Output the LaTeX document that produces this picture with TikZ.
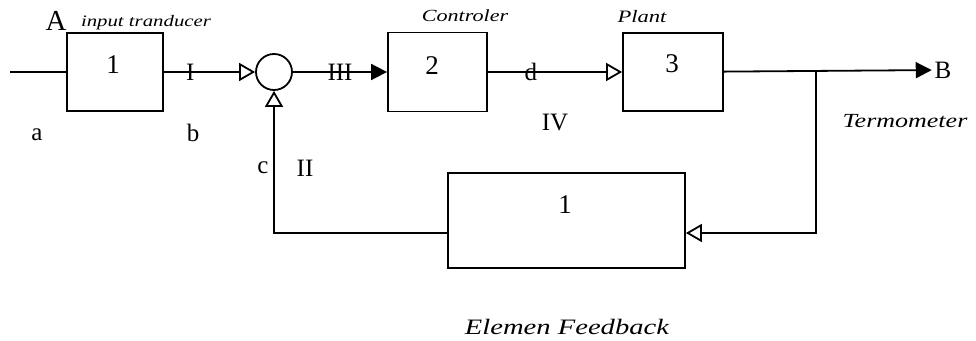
\documentclass[tikz,border=0pt]{standalone}
\usepackage{fontspec}
\setmainfont{Liberation Serif}
\newfontfamily\tagfont[FakeStretch=1.3]{Liberation Serif}
\usetikzlibrary{arrows.meta}

\begin{document}
\begin{tikzpicture}[x=0.5pt,y=-0.5pt,line width=0.9pt,
  blk/.style={draw,inner sep=0pt},
  opentip/.style={-{Triangle[open,length=8pt,width=9pt]}},
  fulltip/.style={-{Triangle[length=8pt,width=8pt]}},
  num/.style={font=\fontsize{13.5}{15}\selectfont},
  sig/.style={font=\fontsize{12.5}{15}\selectfont,inner sep=1pt},
  tag/.style={font=\tagfont\itshape\fontsize{#1}{12}\selectfont,inner sep=0pt}]
  \useasboundingbox (0,0) rectangle (976,341);
  \node[blk,minimum width=48pt,minimum height=39pt] (tr) at (115,72) {};
  \node[num] (tr1) at (113,65) {1};
  \node[draw,circle,minimum size=18pt,inner sep=0pt] (sum) at (274,72) {};
  \node[blk,minimum width=49.5pt,minimum height=39.5pt] (ctl) at (437.5,72) {};
  \node[num] (ctl2) at (432,66) {2};
  \node[blk,minimum width=50pt,minimum height=39pt] (pl) at (673,72) {};
  \node[num] (pl3) at (672,64) {3};
  \node[blk,minimum width=118.5pt,minimum height=47.5pt] (fb) at (566.5,220.5) {};
  \node[num] (fb1) at (565,205) {1};
  \coordinate (in) at (10,72);
  \coordinate (tap) at (816,72);
  \node[sig] (B) at (943,70) {B};

  \draw (in) -- (tr);
  \draw[opentip] (tr) -- node[sig,pos=0.29] {I} (sum);
  \draw[fulltip] (sum) -- node[sig,pos=0.5] {III} (ctl);
  \draw[opentip] (ctl) -- node[sig,pos=0.32] {d} (pl);
  \draw[fulltip] (pl) -- (B);
  \draw[opentip] (tap) |- ([yshift=-6.25pt]fb.east);
  \draw[opentip] ([yshift=-6.25pt]fb.west) -| (sum);

  \node[sig,font=\fontsize{14.5}{16}\selectfont] (A) at (56,21) {A};
  \node[sig] (a) at (37,135) {a};
  \node[sig] (b) at (193,133) {b};
  \node[sig] (c) at (263,168) {c};
  \node[sig] (II) at (305,168) {II};
  \node[sig] (IV) at (555,123) {IV};
  \node[tag=8] (trtag) at (146,23) {input tranducer};
  \node[tag=8.5] (ctltag) at (465,16) {Controler};
  \node[tag=8.7] (pltag) at (642,17) {Plant};
  \node[tag=10] (thtag) at (905,121) {Termometer};
  \node[tag=11] (fbtag) at (567,327) {Elemen Feedback};
\end{tikzpicture}
\end{document}
